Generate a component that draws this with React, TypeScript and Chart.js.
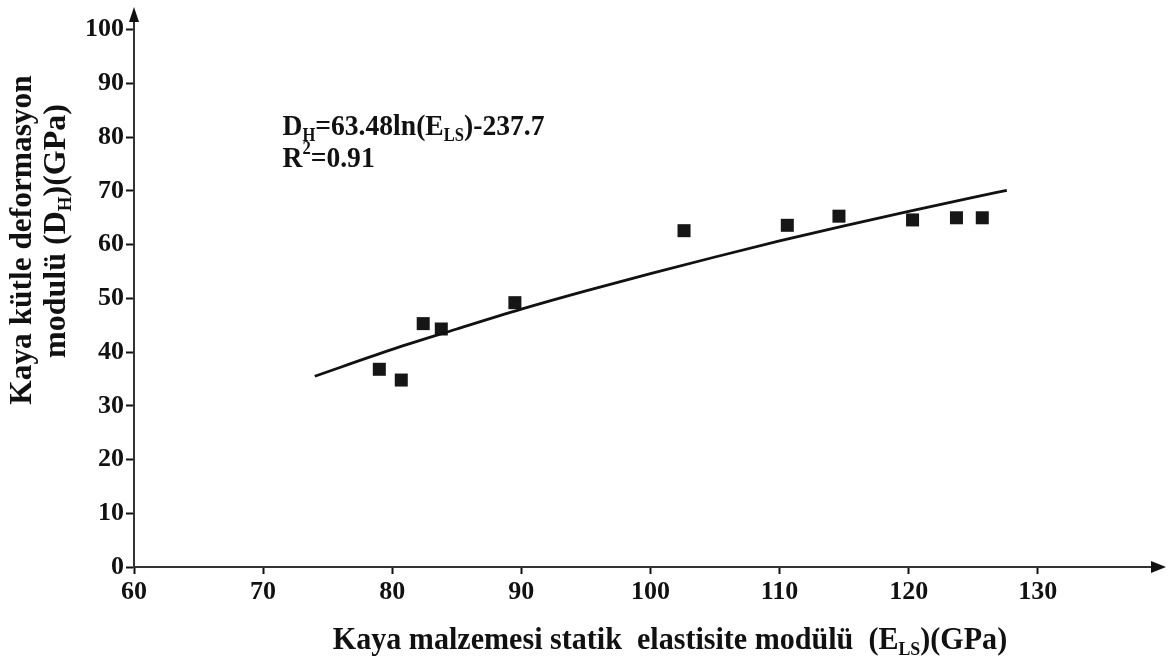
import React, { useEffect, useRef } from "react";
import { Chart, registerables } from "chart.js";

Chart.register(...registerables);

// Measured points: rock material static elastic modulus (GPa) vs rock mass deformation modulus (GPa)
const E_LS = [79.0, 80.7, 82.4, 83.8, 89.5, 102.6, 110.6, 114.6, 120.3, 123.7, 125.7];
const D_H = [36.8, 34.8, 45.3, 44.3, 49.2, 62.6, 63.6, 65.3, 64.6, 65.0, 65.0];

// Trend curve samples
const TREND_X = [74, 80, 85, 90, 95, 100, 105, 110, 115, 120, 125, 127.6];
const TREND_Y = [35.5, 40.5, 44.3, 48.0, 51.4, 54.6, 57.7, 60.7, 63.5, 66.2, 68.8, 70.1];

// Tick labels
const X_TICKS = [60, 70, 80, 90, 100, 110, 120, 130];
const Y_TICKS = [0, 10, 20, 30, 40, 50, 60, 70, 80, 90, 100];

const FONT = '"Liberation Serif", "Times New Roman", serif';
const INK = "#111111";

type Seg = { t: string; sub?: boolean; sup?: boolean };

function segWidth(ctx: CanvasRenderingContext2D, segs: Seg[], size: number) {
  let w = 0;
  for (const s of segs) {
    const fs = s.sub || s.sup ? Math.round(size * 0.6) : size;
    ctx.font = `bold ${fs}px ${FONT}`;
    w += ctx.measureText(s.t).width;
  }
  return w;
}

function drawRich(
  ctx: CanvasRenderingContext2D,
  segs: Seg[],
  x: number,
  y: number,
  size: number,
  align: "left" | "center",
  sx = 1
) {
  const total = segWidth(ctx, segs, size);
  ctx.save();
  ctx.translate(x, y);
  ctx.scale(sx, 1);
  let cx = align === "center" ? -total / 2 : 0;
  ctx.textAlign = "left";
  ctx.textBaseline = "alphabetic";
  for (const s of segs) {
    const fs = s.sub || s.sup ? Math.round(size * 0.6) : size;
    ctx.font = `bold ${fs}px ${FONT}`;
    const dy = s.sub ? size * 0.2 : s.sup ? -size * 0.42 : 0;
    ctx.fillText(s.t, cx, dy);
    cx += ctx.measureText(s.t).width;
  }
  ctx.restore();
}

const overlayPlugin = {
  id: "overlay",
  afterDraw(chart: any) {
    const ctx: CanvasRenderingContext2D = chart.ctx;
    const { left, right, top, bottom } = chart.chartArea;
    const xs = chart.scales.x;
    const ys = chart.scales.y;
    ctx.save();
    ctx.fillStyle = INK;
    // axis arrows
    ctx.beginPath();
    ctx.moveTo(right + 12, bottom);
    ctx.lineTo(right - 3, bottom - 6);
    ctx.lineTo(right - 3, bottom + 6);
    ctx.closePath();
    ctx.fill();
    ctx.beginPath();
    ctx.moveTo(left, top - 12);
    ctx.lineTo(left - 5, top + 3);
    ctx.lineTo(left + 5, top + 3);
    ctx.closePath();
    ctx.fill();

    // equation annotation
    const ax = xs.getPixelForValue(71.5);
    const ay = ys.getPixelForValue(80.4);
    drawRich(
      ctx,
      [
        { t: "D" },
        { t: "H", sub: true },
        { t: "=63.48ln(E" },
        { t: "LS", sub: true },
        { t: ")-237.7" },
      ],
      ax,
      ay,
      30,
      "left",
      0.92
    );
    drawRich(ctx, [{ t: "R" }, { t: "2", sup: true }, { t: "=0.91" }], ax, ay + 32, 30, "left", 0.92);

    // x axis title
    drawRich(
      ctx,
      [
        { t: "Kaya malzemesi statik  elastisite modülü  (E" },
        { t: "LS", sub: true },
        { t: ")(GPa)" },
      ],
      670,
      649,
      32,
      "center",
      0.94
    );

    // y axis title (two rotated lines)
    ctx.save();
    ctx.translate(31, 240);
    ctx.rotate(-Math.PI / 2);
    drawRich(ctx, [{ t: "Kaya kütle deformasyon" }], 0, 0, 32, "center", 0.98);
    ctx.restore();
    ctx.save();
    ctx.translate(65, 231);
    ctx.rotate(-Math.PI / 2);
    drawRich(
      ctx,
      [{ t: "modulü (D" }, { t: "H", sub: true }, { t: ")(GPa)" }],
      0,
      0,
      32,
      "center",
      1.0
    );
    ctx.restore();
    ctx.restore();
  },
};

export default function App() {
  const ref = useRef<HTMLCanvasElement | null>(null);
  useEffect(() => {
    if (!ref.current) return;
    const points = E_LS.map((x, i) => ({ x, y: D_H[i] }));
    const trend = TREND_X.map((x, i) => ({ x, y: TREND_Y[i] }));
    const chart = new Chart(ref.current, {
      type: "scatter",
      data: {
        datasets: [
          {
            label: "Ölçüm",
            data: points,
            pointStyle: "rect",
            pointRadius: 9.2,
            pointHoverRadius: 9.2,
            backgroundColor: "#161616",
            borderColor: "#161616",
            borderWidth: 0,
            order: 1,
          },
          {
            label: "Trend",
            data: trend,
            showLine: true,
            pointRadius: 0,
            borderColor: INK,
            borderWidth: 2.8,
            cubicInterpolationMode: "monotone",
            fill: false,
            order: 0,
          } as any,
        ],
      },
      options: {
        animation: false,
        responsive: false,
        layout: { padding: { top: 19, right: 14, left: 0, bottom: 0 } },
        plugins: {
          legend: { display: false },
          tooltip: { enabled: false },
          title: { display: false },
        },
        scales: {
          x: {
            type: "linear",
            min: 60,
            max: 139,
            ticks: {
              stepSize: 10,
              color: INK,
              padding: 3,
              font: { family: FONT, size: 26, weight: "bold" },
            },
            grid: {
              drawOnChartArea: false,
              drawTicks: true,
              tickLength: 7,
              tickColor: INK,
              tickWidth: 2,
            },
            border: { display: true, color: "#333", width: 2 },
            afterBuildTicks: (s: any) => {
              s.ticks = X_TICKS.map((v) => ({ value: v }));
            },
            afterFit: (s: any) => {
              s.height = 92;
            },
          },
          y: {
            type: "linear",
            min: 0,
            max: 102,
            ticks: {
              stepSize: 10,
              color: INK,
              padding: 2,
              font: { family: FONT, size: 26, weight: "bold" },
            },
            grid: {
              drawOnChartArea: false,
              drawTicks: true,
              tickLength: 8,
              tickColor: INK,
              tickWidth: 2,
            },
            border: { display: true, color: "#333", width: 2 },
            afterBuildTicks: (s: any) => {
              s.ticks = Y_TICKS.map((v) => ({ value: v }));
            },
            afterFit: (s: any) => {
              s.width = 134;
            },
          },
        },
      },
      plugins: [overlayPlugin],
    });
    return () => chart.destroy();
  }, []);

  return (
    <div
      style={{
        position: "fixed",
        left: 0,
        top: 0,
        width: 1168,
        height: 659,
        background: "#ffffff",
      }}
    >
      <canvas ref={ref} width={1168} height={659} style={{ display: "block" }} />
    </div>
  );
}
